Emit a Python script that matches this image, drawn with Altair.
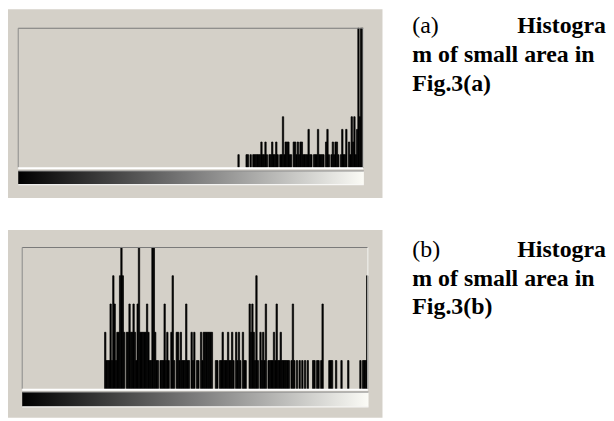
import altair as alt
import pandas as pd

# ---- panel (a): gray-level histogram (bin -> pixel count) ----
a_bins = [163, 169, 170, 172, 174, 175, 176, 177, 178, 179,
          180, 181, 182, 183, 184, 186, 187, 188, 189, 190, 191, 192,
          194, 195, 196, 197, 198, 199, 200, 201, 202,
          204, 205, 206, 207, 208, 209, 210, 211, 212, 213, 214, 215, 216, 217,
          219, 220, 221, 222, 223, 224, 225, 226,
          228, 229, 230, 232, 233, 234, 235, 236, 237,
          239, 240, 241, 242, 243, 245, 246, 247, 248, 249, 250, 251, 252, 253, 254, 255]
a_counts = [1, 1, 1, 1, 1, 1, 1, 1, 1, 1,
            2, 1, 1, 2, 1, 1, 1, 2, 1, 1, 2, 1,
            1, 1, 4, 1, 2, 2, 2, 1, 1,
            2, 2, 1, 2, 1, 2, 2, 1, 1, 1, 1, 3, 1, 1,
            1, 1, 1, 3, 1, 1, 1, 1,
            2, 3, 1, 1, 2, 1, 2, 2, 1,
            1, 3, 1, 1, 3, 2, 1, 4, 2, 4, 1, 3, 11, 4, 11, 11]

# ---- panel (b) ----
b_bins = [61, 62, 63, 64, 65, 66, 67, 68, 69, 70, 71, 72, 73, 74, 75,
          77, 78, 79, 80, 81, 82, 83, 84, 85, 86, 87, 88, 89, 90, 91, 92, 93, 94, 95,
          96, 97, 98, 99, 100, 102, 103, 104, 105, 106, 107, 108, 110, 111, 112,
          114, 115, 116, 117, 118, 119, 120, 121, 122, 123, 125, 126, 127, 129, 130,
          132, 133, 134, 135, 136, 137, 138, 139, 140, 143, 144, 146, 147, 148, 149,
          150, 151, 152, 153, 154, 155, 156, 158, 159, 160, 161, 163, 164, 165,
          168, 169, 170, 171, 172, 173, 174, 176, 177, 178, 179, 180, 182, 183, 184,
          185, 186, 187, 188, 189, 190, 191, 192, 193, 194, 195, 196, 197, 199, 200,
          201, 203, 205, 207, 209, 211, 215, 216, 218, 219, 221, 222, 227, 228, 229,
          232, 236, 241, 250, 252, 253, 254, 255]
b_counts = [2, 1, 1, 1, 3, 1, 4, 3, 1, 2, 2, 4, 5, 4, 2,
            2, 2, 3, 2, 2, 3, 2, 1, 3, 5, 2, 2, 2, 2, 2, 3, 2, 1, 1,
            5, 5, 2, 1, 1, 1, 1, 1, 3, 1, 2, 1, 2, 4, 1,
            2, 2, 1, 2, 1, 1, 1, 3, 1, 1, 2, 1, 2, 1, 1,
            2, 1, 2, 2, 2, 2, 2, 2, 2, 1, 1, 1, 1, 2, 1,
            1, 1, 2, 1, 1, 2, 1, 2, 1, 2, 1, 2, 1, 1,
            3, 2, 3, 2, 1, 4, 1, 2, 1, 2, 1, 3, 1, 1, 1,
            1, 2, 1, 3, 1, 1, 2, 1, 1, 1, 1, 1, 1, 1, 3,
            1, 1, 1, 1, 1, 1, 1, 1, 1, 1, 1, 3, 1, 1, 1,
            1, 1, 1, 1, 1, 1, 1, 4]

caption_a = ["(a)", "Histogra", "m of small area in", "Fig.3(a)"]
caption_b = ["(b)", "Histogra", "m of small area in", "Fig.3(b)"]

BEIGE = "#d4d0c8"
FONT = "'Liberation Serif', 'Times New Roman', Times, serif"


def panel(bins, counts, ymax, xrange, yrange, grad, caption, text_y, h):
    df = pd.DataFrame({"bin": bins, "count": counts})
    df["bin_end"] = df["bin"] + 1
    one = pd.DataFrame({"k": [0]})
    xs = alt.Scale(domain=[0, 256], range=xrange)
    ys = alt.Scale(domain=[0, ymax], range=yrange)

    bars = alt.Chart(df).mark_rect(color="black", stroke="black", strokeWidth=0.7).encode(
        x=alt.X("bin:Q", scale=xs, axis=None),
        x2="bin_end:Q",
        y=alt.Y("count:Q", scale=ys, axis=None),
        y2=alt.datum(0),
    )
    top = alt.Chart(one).mark_rule(color="#7a7a7a", strokeWidth=1.2).encode(
        x=alt.datum(0), x2=alt.datum(256), y=alt.datum(ymax))
    left = alt.Chart(one).mark_rule(color="#8a8a8a", strokeWidth=1).encode(
        x=alt.datum(0), y=alt.datum(0), y2=alt.datum(ymax))
    right = alt.Chart(one).mark_rule(color="#f4f4f0", strokeWidth=1).encode(
        x=alt.datum(256), y=alt.datum(0), y2=alt.datum(ymax))
    bottom = alt.Chart(one).mark_rule(color="#ffffff", strokeWidth=2, yOffset=1).encode(
        x=alt.datum(0), x2=alt.datum(256), y=alt.datum(0))

    grad_rect = alt.Chart(one).mark_rect(
        fill=alt.Gradient(
            gradient="linear",
            stops=[alt.GradientStop(color="#000000", offset=0),
                   alt.GradientStop(color="#7c7c7c", offset=0.5),
                   alt.GradientStop(color="#fbfbf6", offset=1)],
            x1=0, x2=1, y1=0, y2=0)
    ).encode(x=alt.datum(0), x2=alt.datum(256.5),
             y=alt.value(grad[0]), y2=alt.value(grad[1]))
    grad_top = alt.Chart(one).mark_rule(color="#8c8c8c", strokeWidth=1).encode(
        x=alt.datum(0), x2=alt.datum(256.5), y=alt.value(grad[0]))
    grad_bot = alt.Chart(one).mark_rule(color="#ffffff", strokeWidth=1).encode(
        x=alt.datum(0), x2=alt.datum(256.5), y=alt.value(grad[1] + 0.5))

    def txt(s, x, y, align, weight):
        return alt.Chart(pd.DataFrame({"t": [s]})).mark_text(
            align=align, baseline="alphabetic", font=FONT, fontSize=24,
            fontWeight=weight, color="black"
        ).encode(x=alt.value(x), y=alt.value(y), text="t:N")

    texts = [
        txt(caption[0], 407, text_y[0], "left", "normal"),
        txt(caption[1], 602, text_y[0], "right", "bold"),
        txt(caption[2], 407, text_y[1], "left", "bold"),
        txt(caption[3], 407, text_y[2], "left", "bold"),
    ]

    return alt.layer(bars, top, left, right, bottom, grad_rect, grad_top, grad_bot,
                     *texts).properties(width=377, height=h)


pa = panel(a_bins, a_counts, 11, [10.3, 363.0], [159.0, 19.0], (162.7, 176.0),
           caption_a, (24, 53, 82), 190)
pb = panel(b_bins, b_counts, 5, [14.3, 367.7], [160.0, 17.7], (163.3, 177.7),
           caption_b, (27, 56, 85), 189)

chart = alt.vconcat(pa, pb, spacing=32).properties(
    padding=0, background="white"
).configure_view(fill=BEIGE, stroke=None)

chart.save("out.html", embed_options={"renderer": "svg", "actions": False})
